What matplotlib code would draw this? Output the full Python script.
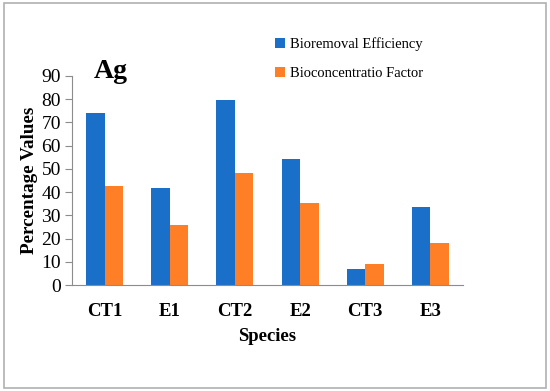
import matplotlib.pyplot as plt
import numpy as np
from matplotlib.patches import Rectangle

species = ['CT1', 'E1', 'CT2', 'E2', 'CT3', 'E3']
bioremoval = [74.0, 41.7, 79.6, 54.2, 7.0, 33.4]
bioconc = [42.6, 25.9, 48.2, 35.1, 9.2, 18.2]

plt.rcParams['font.family'] = 'Liberation Serif'

fig = plt.figure(figsize=(5.5, 3.91), dpi=100)
ax = fig.add_axes([72/550, 1 - 285/391, (463 - 72)/550, (285 - 76)/391])

x = np.arange(len(species))
w = 0.285
ax.bar(x - w/2, bioremoval, w, color='#1A70C8', label='Bioremoval Efficiency')
ax.bar(x + w/2, bioconc, w, color='#FF7F27', label='Bioconcentratio Factor')

ax.set_xlim(-0.5, len(species) - 0.5)
ax.set_ylim(0, 90)
ax.set_yticks(range(0, 91, 10))
ax.set_xticks(x)
ax.set_xticklabels(species, fontweight='bold', fontsize=13.5)
ax.tick_params(axis='x', length=0, pad=13)
ax.tick_params(axis='y', labelsize=14, length=5, color='#8c8c8c', pad=3)
for s in ['top', 'right']:
    ax.spines[s].set_visible(False)
for s in ['left', 'bottom']:
    ax.spines[s].set_color('#8c8c8c')

ax.set_ylabel('Percentage Values', fontweight='bold', fontsize=13.8, labelpad=2)
ax.set_xlabel('Species', fontweight='bold', fontsize=13.5, labelpad=6)

fig.text(94/550, 1 - 71/391, 'Ag', fontsize=20, fontweight='bold', va='center')

fig.legend(loc='upper left', bbox_to_anchor=(262/550, 1 - 24/391), frameon=False,
           fontsize=10.5, handlelength=0.7, handleheight=0.7, labelspacing=1.1,
           handletextpad=0.3)

fig.patches.append(Rectangle((4/550, 3/391), 542/550, 385/391, transform=fig.transFigure,
                             fill=False, edgecolor='#b0b0b0', linewidth=1.2))

fig.savefig('out.png', dpi=100)
